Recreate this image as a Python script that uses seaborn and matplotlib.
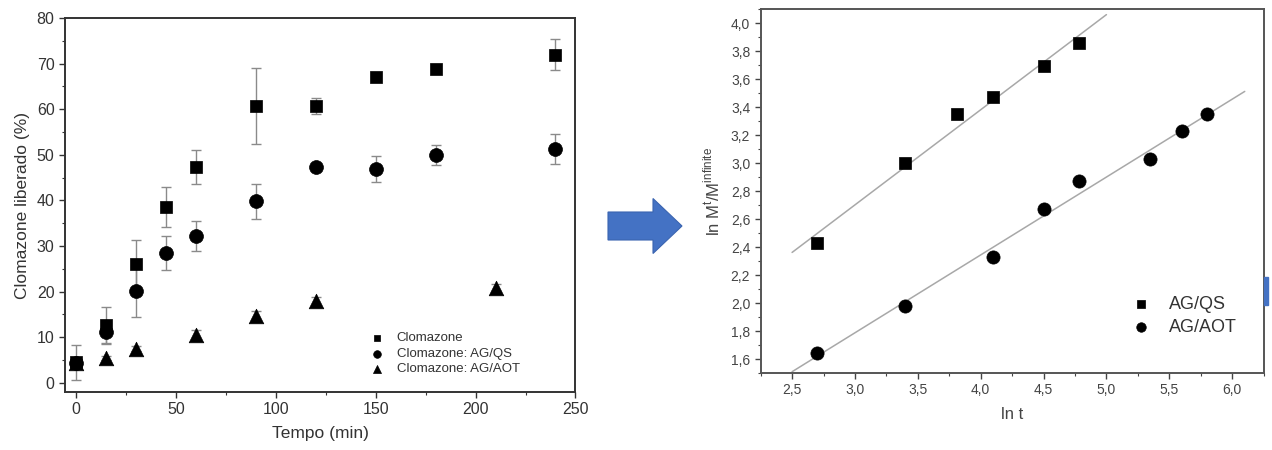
import numpy as np
import pandas as pd
import matplotlib
matplotlib.use("Agg")
import matplotlib.pyplot as plt
from matplotlib.ticker import MultipleLocator, FuncFormatter
from matplotlib.patches import FancyArrow, Rectangle
import seaborn as sns

# ---------------- data: left chart (release profile) ----------------
time_clom = [0, 15, 30, 45, 60, 90, 120, 150, 180, 240]
clom = [4.5, 12.6, 26.0, 38.5, 47.3, 60.7, 60.7, 67.0, 68.9, 72.0]
clom_err = [3.9, 4.0, 5.4, 4.4, 3.8, 8.3, 1.8, 0.5, 0.5, 3.3]

time_qs = [0, 15, 30, 45, 60, 90, 120, 150, 180, 240]
qs = [4.4, 11.2, 20.2, 28.4, 32.2, 39.8, 47.4, 46.9, 49.9, 51.2]
qs_err = [1.0, 2.4, 5.7, 3.7, 3.3, 3.9, 0.4, 2.9, 2.2, 3.3]

time_aot = [0, 15, 30, 60, 90, 120, 210]
aot = [4.3, 5.5, 7.5, 10.5, 14.7, 17.9, 20.9]
aot_err = [0.5, 0.5, 0.5, 1.0, 1.0, 1.0, 0.8]

left_labels = ["Clomazone", "Clomazone: AG/QS", "Clomazone: AG/AOT"]

# ---------------- data: right chart (ln-ln kinetics) ----------------
lnt_qs = [2.70, 3.40, 3.81, 4.10, 4.50, 4.78]
lnm_qs = [2.43, 3.00, 3.35, 3.47, 3.69, 3.86]
lnt_aot = [2.70, 3.40, 4.10, 4.50, 4.78, 5.35, 5.60, 5.80]
lnm_aot = [1.64, 1.98, 2.33, 2.67, 2.87, 3.03, 3.23, 3.35]
fit_range_qs = [2.5, 5.0]
fit_range_aot = [2.5, 6.1]
right_labels = ["AG/QS", "AG/AOT"]

sns.set_theme(style="ticks")
plt.rcParams["font.family"] = ["Liberation Sans", "DejaVu Sans"]

fig = plt.figure(figsize=(12.72, 4.5), dpi=100)
ax1 = fig.add_axes([0.0511, 0.1289, 0.4013, 0.831])
ax2 = fig.add_axes([0.598, 0.1711, 0.3954, 0.8089])

# ---------- left chart ----------
series = [
    (time_clom, clom, clom_err, "s", 9, left_labels[0]),
    (time_qs, qs, qs_err, "o", 10, left_labels[1]),
    (time_aot, aot, aot_err, "^", 10.5, left_labels[2]),
]
for t, v, e, m, ms, lab in series:
    ax1.errorbar(t, v, yerr=e, fmt="none", ecolor="#8a8a8a", elinewidth=1.0,
                 capsize=3.5, capthick=1.0, zorder=2)
    df = pd.DataFrame({"t": t, "v": v})
    sns.scatterplot(data=df, x="t", y="v", marker=m, s=ms ** 2, color="black",
                    edgecolor="black", linewidth=0.5, ax=ax1, zorder=3, label=lab)

ax1.set_xlim(-5.5, 250)
ax1.set_ylim(-2, 80)
ax1.xaxis.set_major_locator(MultipleLocator(50))
ax1.xaxis.set_minor_locator(MultipleLocator(25))
ax1.yaxis.set_major_locator(MultipleLocator(10))
ax1.yaxis.set_minor_locator(MultipleLocator(5))
ax1.tick_params(axis="both", which="major", labelsize=11.5, length=4, width=1.0,
                colors="#333333", direction="out")
ax1.tick_params(axis="both", which="minor", length=2.5, width=0.8, colors="#333333")
ax1.set_xlabel("Tempo (min)", fontsize=12.5, color="#333333", labelpad=6)
ax1.set_ylabel("Clomazone liberado (%)", fontsize=12.5, color="#333333", labelpad=5)
for sp in ax1.spines.values():
    sp.set_visible(True)
    sp.set_linewidth(1.4)
    sp.set_color("#333333")

h, l = ax1.get_legend_handles_labels()
leg1 = ax1.legend(h, l, loc="lower left", bbox_to_anchor=(0.575, 0.03), frameon=False,
                  fontsize=9.5, handletextpad=0.5, labelspacing=0.25, markerscale=0.55,
                  borderaxespad=0)
for txt in leg1.get_texts():
    txt.set_color("#333333")

# ---------- right chart ----------
for xs, ys, rng, m, ms, lab in [
    (lnt_qs, lnm_qs, fit_range_qs, "s", 8.5, right_labels[0]),
    (lnt_aot, lnm_aot, fit_range_aot, "o", 9.5, right_labels[1]),
]:
    slope, intercept = np.polyfit(xs, ys, 1)
    xx = np.array(rng)
    sns.lineplot(x=xx, y=slope * xx + intercept, color="#a8a8a8", linewidth=1.1,
                 ax=ax2, zorder=2)
    df = pd.DataFrame({"x": xs, "y": ys})
    sns.scatterplot(data=df, x="x", y="y", marker=m, s=ms ** 2, color="black",
                    edgecolor="black", linewidth=0.5, ax=ax2, zorder=3, label=lab)

ax2.set_xlim(2.25, 6.25)
ax2.set_ylim(1.5, 4.1)
ax2.xaxis.set_major_locator(MultipleLocator(0.5))
ax2.xaxis.set_minor_locator(MultipleLocator(0.25))
ax2.yaxis.set_major_locator(MultipleLocator(0.2))
ax2.yaxis.set_minor_locator(MultipleLocator(0.1))
comma = FuncFormatter(lambda v, p: f"{v:.1f}".replace(".", ","))
ax2.xaxis.set_major_formatter(comma)
ax2.yaxis.set_major_formatter(comma)
ax2.tick_params(axis="both", which="major", labelsize=10, length=4, width=1.0,
                colors="#444444", direction="out")
ax2.tick_params(axis="both", which="minor", length=2.5, width=0.8, colors="#444444")
ax2.set_xlabel("ln t", fontsize=12, color="#444444", labelpad=7)
ax2.set_ylabel(r"ln M$^{\mathregular{t}}$/M$^{\mathregular{infinite}}$", fontsize=12,
               color="#444444", labelpad=6)
for sp in ax2.spines.values():
    sp.set_visible(True)
    sp.set_linewidth(1.4)
    sp.set_color("#555555")

h, l = ax2.get_legend_handles_labels()
leg2 = ax2.legend(h, l, loc="lower left", bbox_to_anchor=(0.705, 0.083), frameon=False,
                  fontsize=13, handletextpad=0.55, labelspacing=0.3, markerscale=0.72,
                  borderaxespad=0)
for txt in leg2.get_texts():
    txt.set_color("#333333")

# ---------- blue arrow between charts ----------
arrow = FancyArrow(608 / 1272, 1 - 226 / 450, 74 / 1272, 0, width=28 / 450,
                   head_width=55 / 450, head_length=29 / 1272,
                   length_includes_head=True, transform=fig.transFigure,
                   color="#4472C4", ec="#3a64b0", lw=0.8)
fig.patches.append(arrow)
fig.patches.append(Rectangle((1264 / 1272, 1 - 305 / 450), 4 / 1272, 28 / 450,
                             transform=fig.transFigure, color="#4472C4"))

fig.savefig("out.png", dpi=100)
